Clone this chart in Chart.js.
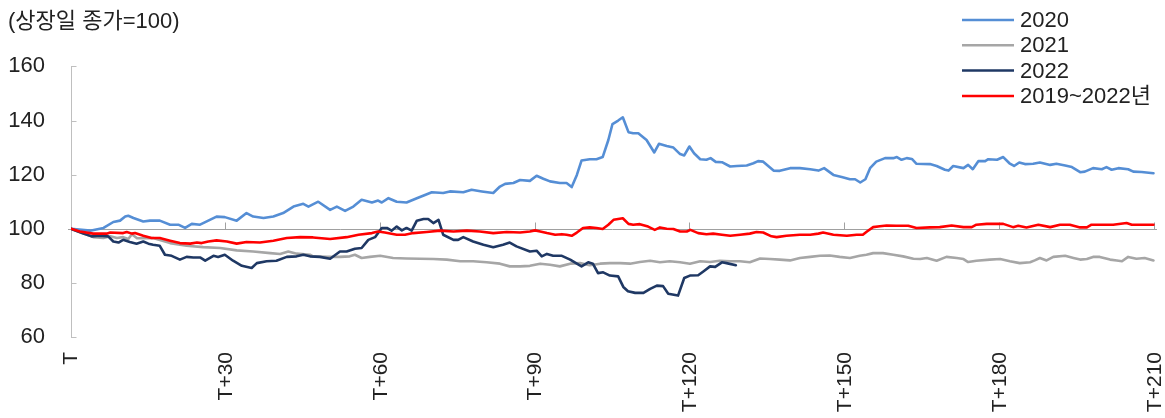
<!DOCTYPE html>
<html><head><meta charset="utf-8">
<script src="https://cdn.jsdelivr.net/npm/chart.js@4.4.1/dist/chart.umd.min.js"></script>
<style>html,body{margin:0;padding:0;background:#fff}</style>
</head><body>
<canvas id="c" width="1165" height="418"></canvas>
<script>
const xTickLabels = ['T','T+30','T+60','T+90','T+120','T+150','T+180','T+210'];
const yTickValues = [60,80,100,120,140,160];
const seriesNames = ['2020','2021','2022','2019~2022년'];

const days2020 = [0,3.7,6.3,8.2,9.5,10.5,11.1,12.1,14.0,15.3,17.2,19.2,20.8,22.1,23.4,25.0,26.6,28.2,29.8,32.1,34.0,35.3,37.3,39.2,41.1,43.1,45.0,46.0,47.9,50.2,51.5,53.1,54.7,56.3,58.3,59.5,60.2,61.5,63.1,65.0,67.0,69.9,72.1,73.4,76.0,77.6,79.6,81.8,83.1,84.1,85.7,87.0,88.9,90.2,91.5,92.8,94.7,96.0,97.0,98.0,98.9,100.5,101.8,103.0,104.1,104.9,106.0,106.9,108.0,108.9,109.9,111.5,113.0,113.9,115.4,116.7,118.0,118.8,119.8,120.7,121.9,123.1,123.9,124.9,126.1,127.7,129.0,130.9,132.2,133.1,134.1,136.1,137.3,139.3,141.2,143.2,144.8,145.9,147.7,149.3,150.9,151.9,152.9,153.9,154.8,156.0,157.7,159.3,160.0,160.9,161.9,162.9,163.8,166.4,167.7,169.3,170.0,170.9,172.9,173.8,174.7,175.8,177.1,177.7,179.4,180.6,181.8,182.7,183.7,184.8,186.4,187.7,189.7,190.9,192.6,193.9,195.5,196.4,198.0,199.7,200.6,201.6,202.9,204.8,205.8,207.4,209.7];
const vals2020 = [100,99.3,100.3,102.5,103,104.5,104.8,104,102.7,103,103,101.5,101.5,100.3,101.8,101.5,103,104.5,104.3,103,105.8,104.5,104,104.5,105.8,108.2,109.2,108.2,110,107,108.2,106.6,108.2,110.7,109.7,110.4,109.7,111.3,110,109.7,111.3,113.5,113.2,113.8,113.5,114.4,113.8,113.2,115.6,116.6,116.9,118,117.7,119.6,118.5,117.5,116.9,116.9,115.4,119.9,125.2,125.7,125.7,126.5,132.8,138.7,140,141.2,135.7,135.3,135.3,132.8,128.2,131.4,130.6,130,127.6,127.1,130.4,127.9,125.7,125.5,126.1,124.7,124.6,123,123.2,123.4,124.2,125,124.8,121.5,121.4,122.4,122.4,122,121.5,122.4,119.9,119.1,118.3,118.3,117.1,118.3,122.4,124.8,126.1,126.1,126.5,125.5,126.1,125.8,124,123.9,123.2,121.8,121.5,123.2,122.4,123.6,122,125,125,125.7,125.5,126.5,124.2,123.2,124.5,123.9,124,124.5,123.6,124,123.4,122.8,120.9,121.1,122.4,122,122.8,121.8,122.4,122,121.1,121,120.5];

const days2021 = [0,4.3,6.3,7.6,8.9,10.1,11.1,11.8,12.8,15.9,19.2,22.4,25.6,28.9,32.1,35.3,38.6,40.5,42.1,43.7,46.3,46.9,49.5,52.1,54.0,55.0,56.3,57.9,59.9,62.4,65.0,67.6,70.2,72.8,75.4,77.9,80.5,83.1,85.0,87.0,88.9,90.9,92.8,94.7,96.7,98.6,100.5,102.5,104.4,106.4,108.3,110.2,112.2,114.1,116.0,118.0,119.9,121.9,123.8,125.7,127.7,129.6,131.5,133.5,135.4,137.3,139.3,141.2,143.2,145.1,147.0,148.9,150.9,152.8,154.1,155.4,157.3,159.3,161.2,163.2,164.5,165.8,167.7,169.6,171.6,172.9,173.8,175.4,178.0,180.0,181.9,183.8,185.8,186.7,187.7,189.0,190.3,192.6,194.2,195.5,196.8,198.0,199.3,201.3,202.6,203.6,204.8,206.4,208.0,209.7];
const vals2021 = [100,96.9,96.6,97.2,96.6,96.9,96.2,98.0,96.5,96.6,94.7,93.7,93.2,92.9,92,91.6,91,90.7,91.6,90.8,90.4,89.8,89.6,89.6,89.8,90.4,89.2,89.6,90,89.2,89,88.9,88.8,88.6,88,88,87.6,87.1,86.1,86.1,86.3,87.1,86.7,86.1,87.1,87.3,86.5,87.1,87.3,87.3,87.1,87.7,88.2,87.6,88,87.6,87.1,88,87.7,88.2,88,88,87.6,89.0,88.8,88.6,88.3,89.2,89.6,90,90.1,89.6,89.2,90,90.4,91,91,90.4,89.8,88.9,88.8,89.2,88.2,89.6,89.2,88.8,87.7,88.2,88.6,88.8,88,87.3,87.6,88.3,89.2,88.3,89.6,90,89.2,88.6,88.8,89.6,89.6,88.6,88.3,88,89.6,88.9,89.2,88.3];

const days2022 = [0,2.4,4.0,5.6,7.2,8.2,9.2,10.1,11.4,12.7,14.0,15.0,15.9,17.2,18.2,19.5,21.1,22.4,23.7,25.0,26.0,27.6,28.5,29.8,31.4,33.1,35.0,36.0,37.9,39.8,41.8,43.7,45.0,46.3,48.2,50.2,52.1,53.4,55.0,56.3,57.6,58.9,60.2,61.2,62.1,63.1,64.1,65.0,66.0,67.0,68.3,69.2,70.2,71.2,72.1,74.1,75.0,76.0,77.9,79.9,81.8,83.7,85.0,86.3,88.9,90.2,91.2,92.2,93.4,95.1,96.7,98.0,98.9,100.2,101.1,102.1,103.1,104.4,106.0,107.0,107.9,109.3,110.9,112.2,113.5,114.7,115.7,117.6,118.8,119.9,121.5,122.5,123.8,124.8,126.1,127.0,128.8];
const vals2022 = [100,98.2,97.2,97.4,97.2,95.3,94.9,95.9,95.1,94.5,95.3,94.5,94.1,93.7,90.4,90,88.6,89.6,89.4,89.4,88.2,90,89.6,90.4,88.2,86.3,85.5,87.3,88,88.2,89.6,89.8,90.4,89.8,89.6,88.9,91.6,91.6,92.6,92.9,95.9,96.9,100.3,100.3,99.3,100.8,99.4,100.3,99.3,103,103.6,103.6,102.1,103.3,97.8,95.9,95.9,96.9,95.3,94.1,93.2,94.1,94.9,93.5,91.6,91.9,89.8,90.7,90,90,88.6,87.1,86.1,87.6,87.1,83.6,83.9,82.7,82.4,78.5,76.9,76.3,76.3,77.8,79,78.8,76,75.3,81.8,82.7,82.8,84.2,86.1,85.9,87.6,87.3,86.5];

const daysAvg = [0,1.7,4.3,6.9,7.6,10.1,10.8,11.8,12.4,14.0,15.6,17.2,19.2,21.1,23.1,24.4,25.3,26.6,28.2,30.2,32.1,34.0,36.6,39.2,41.8,44.4,46.9,50.2,53.4,55.7,58.3,59.5,60.8,63.1,64.7,66.3,68.9,71.5,74.1,76.7,79.2,81.8,84.4,87.0,88.9,89.9,90.9,92.2,93.8,95.1,96.0,97.0,98.0,99.2,100.5,101.8,103.0,104.1,105.1,106.0,106.9,108.0,108.9,110.2,111.8,113.1,114.1,115.4,116.7,118.0,119.3,120.0,121.5,123.1,124.4,126.1,127.7,129.6,131.5,132.8,134.1,135.7,136.7,138.6,141.2,143.2,144.8,145.7,147.7,150.3,152.2,153.4,154.2,155.4,156.7,158.0,159.9,161.2,162.2,163.8,166.4,168.3,170.6,172.9,174.5,175.4,177.4,179.4,180.6,182.5,183.5,185.1,187.4,189.7,191.6,193.5,195.5,196.8,197.7,199.9,201.9,204.5,205.5,207.7,209.7];
const valsAvg = [100,99,98.2,98.2,98.6,98.4,98.8,98.2,98.4,97.4,96.6,96.6,95.6,94.7,94.5,94.9,94.7,95.3,95.7,95.3,94.5,95.1,94.9,95.6,96.6,96.9,96.8,96.2,96.9,97.8,98.4,99,98.6,97.8,97.8,98.4,98.8,99.3,99,99.3,99,98.4,98.8,98.6,99,99.4,99,98.4,97.8,98,97.8,97.4,98.6,100.3,100.5,100.3,99.9,101.5,103.3,103.6,103.9,101.8,101.5,101.7,100.8,99.6,100.5,100,99.9,99,99,99.6,98.4,98,98.2,97.8,97.4,97.8,98.2,98.8,98.6,97.2,96.9,97.4,97.8,97.8,98.2,98.6,97.8,97.4,97.8,97.8,99,100.6,100.9,101.2,101.1,101.1,101.1,100.3,100.5,100.6,101.2,100.6,100.6,101.5,101.8,101.8,101.8,100.6,101.1,100.5,101.5,100.6,101.5,101.5,100.5,100.5,101.5,101.5,101.5,102.1,101.5,101.5,101.5];

const seriesColors = ['#558ED5','#A6A6A6','#1F3864','#FF0000'];
const FONT = "'Liberation Sans', Arial, 'Noto Sans CJK KR', sans-serif";

function pts(d, v){ return d.map((x,i)=>({x:x, y:v[i]})); }

const axisDeco = {
  id:'axisDeco',
  beforeDatasetsDraw(chart){
    const {ctx, scales:{x,y}} = chart;
    ctx.save();
    ctx.strokeStyle = '#A0A0A0';
    ctx.lineWidth = 1;
    const y100 = Math.round(y.getPixelForValue(100))+0.5;
    ctx.beginPath();
    ctx.moveTo(x.getPixelForValue(0)-3, y100);
    ctx.lineTo(x.getPixelForValue(210)+2, y100);
    for(let i=1;i<xTickLabels.length;i++){
      const px = Math.round(x.getPixelForValue(i*30))-0.5;
      ctx.moveTo(px, y100); ctx.lineTo(px, y100-7);
    }
    ctx.stroke();
    ctx.strokeStyle = '#BFBFBF';
    ctx.beginPath();
    const x0 = Math.round(x.getPixelForValue(0))+0.5;
    yTickValues.forEach(v=>{
      const py = Math.round(y.getPixelForValue(v))+0.5;
      ctx.moveTo(x0, py); ctx.lineTo(x0+5, py);
    });
    ctx.stroke();
    ctx.restore();
  },
  afterDraw(chart){
    const ctx = chart.ctx;
    ctx.save();
    ctx.font = '22px ' + FONT;
    ctx.textBaseline = 'middle';
    ctx.fillStyle = '#222';
    chart.data.datasets.forEach((ds,i)=>{
      const ry = 20 + i*25.3;
      ctx.strokeStyle = ds.borderColor;
      ctx.lineWidth = 2.5;
      ctx.beginPath(); ctx.moveTo(962, ry); ctx.lineTo(1014, ry); ctx.stroke();
      ctx.fillText(ds.label, 1020, ry+1);
    });
    ctx.restore();
  }
};

new Chart(document.getElementById('c'), {
  type:'line',
  data:{ datasets:[
    {label:seriesNames[0], data:pts(days2020,vals2020), borderColor:seriesColors[0], order:3},
    {label:seriesNames[1], data:pts(days2021,vals2021), borderColor:seriesColors[1], order:2},
    {label:seriesNames[2], data:pts(days2022,vals2022), borderColor:seriesColors[2], order:1},
    {label:seriesNames[3], data:pts(daysAvg,valsAvg), borderColor:seriesColors[3], order:0}
  ]},
  options:{
    responsive:false, animation:false,
    layout:{padding:{left:8,right:10,top:0,bottom:6}},
    elements:{ line:{borderWidth:2.6, tension:0, borderCapStyle:'round', borderJoinStyle:'round'}, point:{radius:0} },
    plugins:{
      legend:{display:false}, tooltip:{enabled:false},
      title:{display:true, text:'(상장일 종가=100)', align:'start', color:'#222',
        font:{family:FONT, size:22, weight:'normal'}, padding:{top:9,bottom:31}}
    },
    scales:{
      x:{ type:'linear', min:0, max:210,
        grid:{display:false, drawTicks:false}, border:{display:false},
        afterBuildTicks(s){ s.ticks = xTickLabels.map((l,i)=>({value:i*30})); },
        afterFit(s){ s.paddingLeft = 0; s.paddingRight = 0; s.height = 75; },
        ticks:{ autoSkip:false, maxRotation:90, minRotation:90, padding:15, color:'#222',
          font:{family:FONT, size:21}, callback:(v)=>xTickLabels[Math.round(v/30)] }
      },
      y:{ min:60, max:160,
        grid:{display:false, drawTicks:false}, border:{display:true, color:'#BFBFBF', width:1},
        afterBuildTicks(s){ s.ticks = yTickValues.map(v=>({value:v})); },
        afterFit(s){ s.width = 63; s.paddingTop = 0; s.paddingBottom = 0; },
        ticks:{ padding:26, color:'#222', font:{family:FONT, size:22} }
      }
    }
  },
  plugins:[axisDeco]
});
</script>
</body></html>
